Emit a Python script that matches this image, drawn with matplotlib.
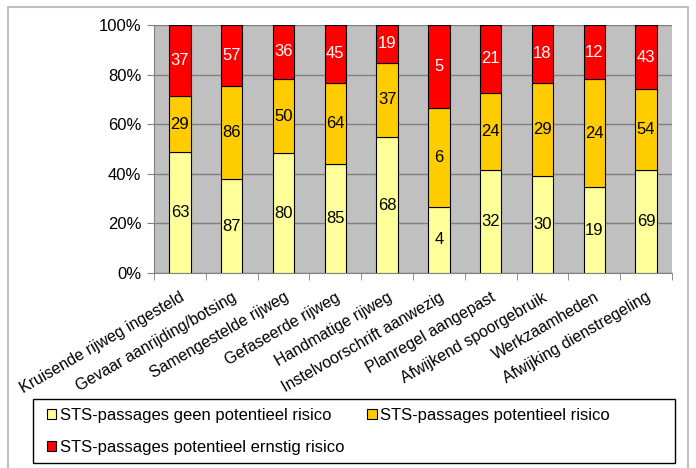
import numpy as np
import matplotlib.pyplot as plt
from matplotlib.patches import Rectangle
from matplotlib.ticker import PercentFormatter, FixedLocator

plt.rcParams['font.family'] = ['Liberation Sans', 'DejaVu Sans']
plt.rcParams['font.size'] = 12

# Data
categories = ['Kruisende rijweg ingesteld', 'Gevaar aanrijding/botsing', 'Samengestelde rijweg',
              'Gefaseerde rijweg', 'Handmatige rijweg', 'Instelvoorschrift aanwezig',
              'Planregel aangepast', 'Afwijkend spoorgebruik', 'Werkzaamheden',
              'Afwijking dienstregeling']
geen_risico = [63, 87, 80, 85, 68, 4, 32, 30, 19, 69]
potentieel_risico = [29, 86, 50, 64, 37, 6, 24, 29, 24, 54]
ernstig_risico = [37, 57, 36, 45, 19, 5, 21, 18, 12, 43]
series_names = ['STS-passages geen potentieel risico', 'STS-passages potentieel risico',
                'STS-passages potentieel ernstig risico']
colors = ['#FFFF99', '#FFCC00', '#FF0000']
text_colors = ['black', 'black', 'white']

series = np.array([geen_risico, potentieel_risico, ernstig_risico], dtype=float)
totals = series.sum(axis=0)
shares = series / totals * 100

W, H = 696, 468
fig = plt.figure(figsize=(W / 100, H / 100), dpi=100)
ax = fig.add_axes([154 / W, 1 - 273 / H, (672 - 154) / W, (273 - 25) / H])
ax.set_facecolor('#C0C0C0')

x = np.arange(len(categories))
bottom = np.zeros(len(categories))
handles = []
for k in range(3):
    bars = ax.bar(x, shares[k], 0.41, bottom=bottom, color=colors[k], edgecolor='black',
                  linewidth=0.8, label=series_names[k], zorder=3)
    handles.append(bars)
    for i in range(len(categories)):
        ax.text(x[i], bottom[i] + shares[k][i] / 2, f'{int(series[k][i])}', ha='center',
                va='center', color=text_colors[k], fontsize=12, zorder=4)
    bottom += shares[k]

ax.set_xlim(-0.5, len(categories) - 0.5)
ax.set_ylim(0, 100)
ax.yaxis.set_major_locator(FixedLocator([0, 20, 40, 60, 80, 100]))
ax.yaxis.set_major_formatter(PercentFormatter(decimals=0))
ax.grid(axis='y', color='#808080', linewidth=1, zorder=1)

ax.set_xticks(x)
ax.set_xticklabels(categories, rotation=30, ha='right', va='top',
                   rotation_mode='anchor', fontsize=11.5)
ax.tick_params(axis='x', length=0, pad=12)
ax.set_xticks(np.arange(-0.5, len(categories)), minor=True)
ax.tick_params(axis='x', which='minor', length=5, color='#808080')
ax.tick_params(axis='y', length=5, color='#808080', pad=4)

for side in ['top', 'right']:
    ax.spines[side].set_visible(False)
for side in ['left', 'bottom']:
    ax.spines[side].set_color('#808080')

# Outer chart border
fig.patches.append(Rectangle((8 / W, -0.02), (688 - 8) / W, 1.02 - 7 / H,
                             transform=fig.transFigure, fill=False,
                             edgecolor='#C0C0C0', linewidth=1.5))

# Legend: column-major order -> geen, ernstig | potentieel
order = [0, 2, 1]
leg = fig.legend([handles[i] for i in order], [series_names[i] for i in order],
                 loc='upper left', bbox_to_anchor=(47 / W, 1 - 408 / H), ncol=2,
                 frameon=False, fontsize=12, borderpad=0, borderaxespad=0,
                 handlelength=0.55, handleheight=0.55, handletextpad=0.2,
                 columnspacing=1.4, labelspacing=1.0)
fig.patches.append(Rectangle((33 / W, 1 - 463 / H), (675 - 33) / W, (463 - 399) / H,
                             transform=fig.transFigure, fill=False,
                             edgecolor='black', linewidth=1))

fig.savefig('out.png', dpi=100)
